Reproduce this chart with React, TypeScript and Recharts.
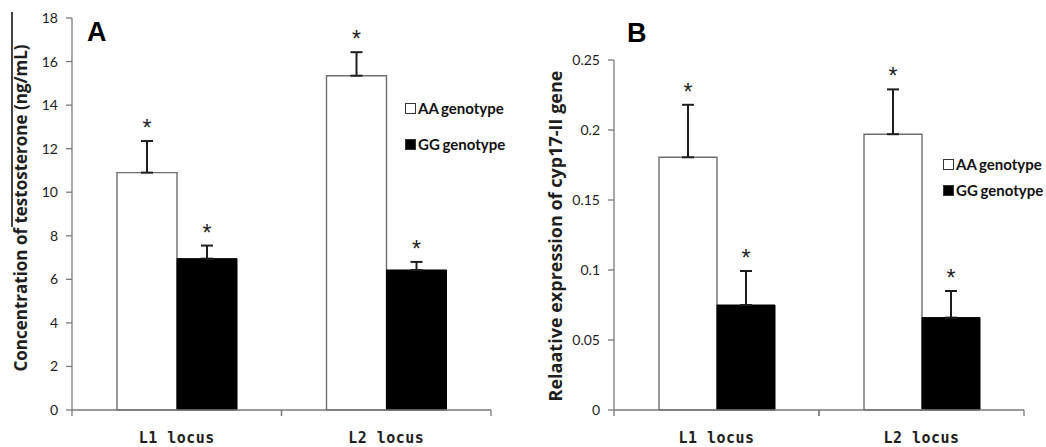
import React from 'react';
import { BarChart, Bar, XAxis, YAxis, ErrorBar, LabelList, Legend, Label } from 'recharts';

const loci = ['L1 locus', 'L2 locus'];
const genotypes = ['AA genotype', 'GG genotype'];

// panel A - testosterone (ng/mL)
const testoAA = [10.9, 15.35];
const testoAAErr = [1.45, 1.08];
const testoGG = [6.95, 6.43];
const testoGGErr = [0.6, 0.37];
const testoTicks = [0, 2, 4, 6, 8, 10, 12, 14, 16, 18];

// panel B - cyp17-II relative expression
const cypAA = [0.1805, 0.197];
const cypAAErr = [0.0375, 0.032];
const cypGG = [0.075, 0.066];
const cypGGErr = [0.0243, 0.019];
const cypTicks = [0, 0.05, 0.1, 0.15, 0.2, 0.25];

const AXIS = '#7a7a7a';
const INK = '#1e1e1e';

const starLabel = (errs: number[]) => (props: any) => {
    const vb = props.viewBox ?? props;
    const x = Number(vb.x), y = Number(vb.y), w = Number(vb.width), h = Number(vb.height);
    const v = Number(props.value);
    if (!v) return null;
    const top = y - (errs[props.index] * h) / v;
    return (
        <text x={x + w / 2} y={top - 5} textAnchor="middle" fontSize={23}
            fontFamily="'Liberation Sans', Arial, sans-serif" fill={INK}>*</text>
    );
};

const locusTick = (band: number) => (props: any) => {
    const { x, y, payload } = props;
    const axisY = y - 8; // tickSize 6 + tickMargin 2
    return (
        <g>
            <line x1={x - band / 2} x2={x - band / 2} y1={axisY} y2={axisY + 6} stroke={AXIS} strokeWidth={1.3} />
            <line x1={x + band / 2} x2={x + band / 2} y1={axisY} y2={axisY + 6} stroke={AXIS} strokeWidth={1.3} />
            <text x={x} y={axisY + 33} textAnchor="middle" fontFamily="'DejaVu Sans Mono', monospace"
                fontWeight="bold" fontSize={15} letterSpacing={0.5} fill={INK}>{payload.value}</text>
        </g>
    );
};

const legendContent = (gap: number) => (props: any) => (
    <div style={{ display: 'flex', flexDirection: 'column', gap }}>
        {(props.payload || []).map((entry: any) => (
            <div key={entry.value} style={{ display: 'flex', alignItems: 'center', height: 20 }}>
                <span style={{ width: 9, height: 9, border: '1px solid #333', background: entry.color, display: 'inline-block' }} />
                <span style={{ marginLeft: 2, fontFamily: 'Lato, sans-serif', fontWeight: 700, fontSize: 15, wordSpacing: -1, color: '#111' }}>
                    {entry.value}
                </span>
            </div>
        ))}
    </div>
);

interface PanelProps {
    left: number;
    width: number;
    margin: { top: number; right: number; bottom: number; left: number };
    yWidth: number;
    ticks: number[];
    title: string;
    titleX: number;
    titleY: number;
    titleSize: number;
    aa: number[];
    aaErr: number[];
    gg: number[];
    ggErr: number[];
    barSize: number;
    legendLeft: number;
    legendTop: number;
    legendGap: number;
}

const Panel: React.FC<PanelProps> = (p) => {
    const data = loci.map((locus, i) => ({
        locus,
        aa: p.aa[i],
        gg: p.gg[i],
        aaErr: [0, p.aaErr[i]],
        ggErr: [0, p.ggErr[i]],
    }));
    const plotW = p.width - p.margin.left - p.margin.right - p.yWidth;
    const band = plotW / loci.length;
    const top = p.ticks[p.ticks.length - 1];

    return (
        <div style={{ position: 'absolute', left: p.left, top: 0 }}>
            <BarChart width={p.width} height={447} data={data} margin={p.margin} barGap={0}>
                <XAxis dataKey="locus" height={30} interval={0} axisLine={{ stroke: AXIS, strokeWidth: 1.3 }}
                    tickLine={false} tickSize={6} tickMargin={2} tick={locusTick(band)} />
                <YAxis width={p.yWidth} domain={[0, top]} ticks={p.ticks} interval={0}
                    axisLine={{ stroke: AXIS, strokeWidth: 1.3 }} tickLine={{ stroke: AXIS, strokeWidth: 1.3 }}
                    tickSize={6} tickMargin={8}
                    tick={{ fill: INK, fontSize: 14, fontFamily: 'Lato, sans-serif' }}>
                    <Label content={() => (
                        <text x={p.titleX} y={p.titleY} transform={`rotate(-90 ${p.titleX} ${p.titleY})`} textAnchor="middle"
                            fontFamily="'Open Sans', sans-serif" fontWeight="bold" fontSize={p.titleSize} fill={INK}>
                            {p.title}
                        </text>
                    )} />
                </YAxis>
                <Legend layout="vertical" align="center" verticalAlign="middle" content={legendContent(p.legendGap)}
                    wrapperStyle={{ left: p.legendLeft, top: p.legendTop, width: 140 }} />
                <Bar dataKey="aa" name={genotypes[0]} fill="#ffffff" stroke="#6e6e6e" strokeWidth={1.4}
                    barSize={p.barSize} isAnimationActive={false}>
                    <ErrorBar dataKey="aaErr" direction="y" width={6} stroke={INK} strokeWidth={2} />
                    <LabelList dataKey="aa" content={starLabel(p.aaErr)} />
                </Bar>
                <Bar dataKey="gg" name={genotypes[1]} fill="#000000" stroke="#000000" strokeWidth={1}
                    barSize={p.barSize} isAnimationActive={false}>
                    <ErrorBar dataKey="ggErr" direction="y" width={6} stroke={INK} strokeWidth={2} />
                    <LabelList dataKey="gg" content={starLabel(p.ggErr)} />
                </Bar>
            </BarChart>
        </div>
    );
};

const letterStyle: React.CSSProperties = {
    position: 'absolute',
    fontFamily: "'Liberation Sans', Arial, sans-serif",
    fontWeight: 'bold',
    fontSize: 27,
    lineHeight: '27px',
    color: '#000',
};

export default function App() {
    return (
        <div style={{ position: 'absolute', left: 0, top: 0, width: 1046, height: 447, background: '#fff', overflow: 'hidden' }}>
            <Panel left={0} width={520} margin={{ top: 18, right: 29, bottom: 7, left: 0 }} yWidth={72}
                ticks={testoTicks} title="Concentration of testosterone (ng/mL)" titleX={27} titleY={208} titleSize={17}
                aa={testoAA} aaErr={testoAAErr} gg={testoGG} ggErr={testoGGErr} barSize={60}
                legendLeft={405} legendTop={98} legendGap={16} />
            <Panel left={520} width={526} margin={{ top: 60, right: 22, bottom: 7, left: 0 }} yWidth={94}
                ticks={cypTicks} title="Relaative expression of cyp17-II gene" titleX={42} titleY={236} titleSize={18}
                aa={cypAA} aaErr={cypAAErr} gg={cypGG} ggErr={cypGGErr} barSize={58}
                legendLeft={423} legendTop={154} legendGap={6} />
            <div style={{ ...letterStyle, left: 87, top: 19 }}>A</div>
            <div style={{ ...letterStyle, left: 627, top: 20 }}>B</div>
            <div style={{ position: 'absolute', left: 11, top: 12, width: 1.5, height: 215, background: '#444' }} />
        </div>
    );
}
